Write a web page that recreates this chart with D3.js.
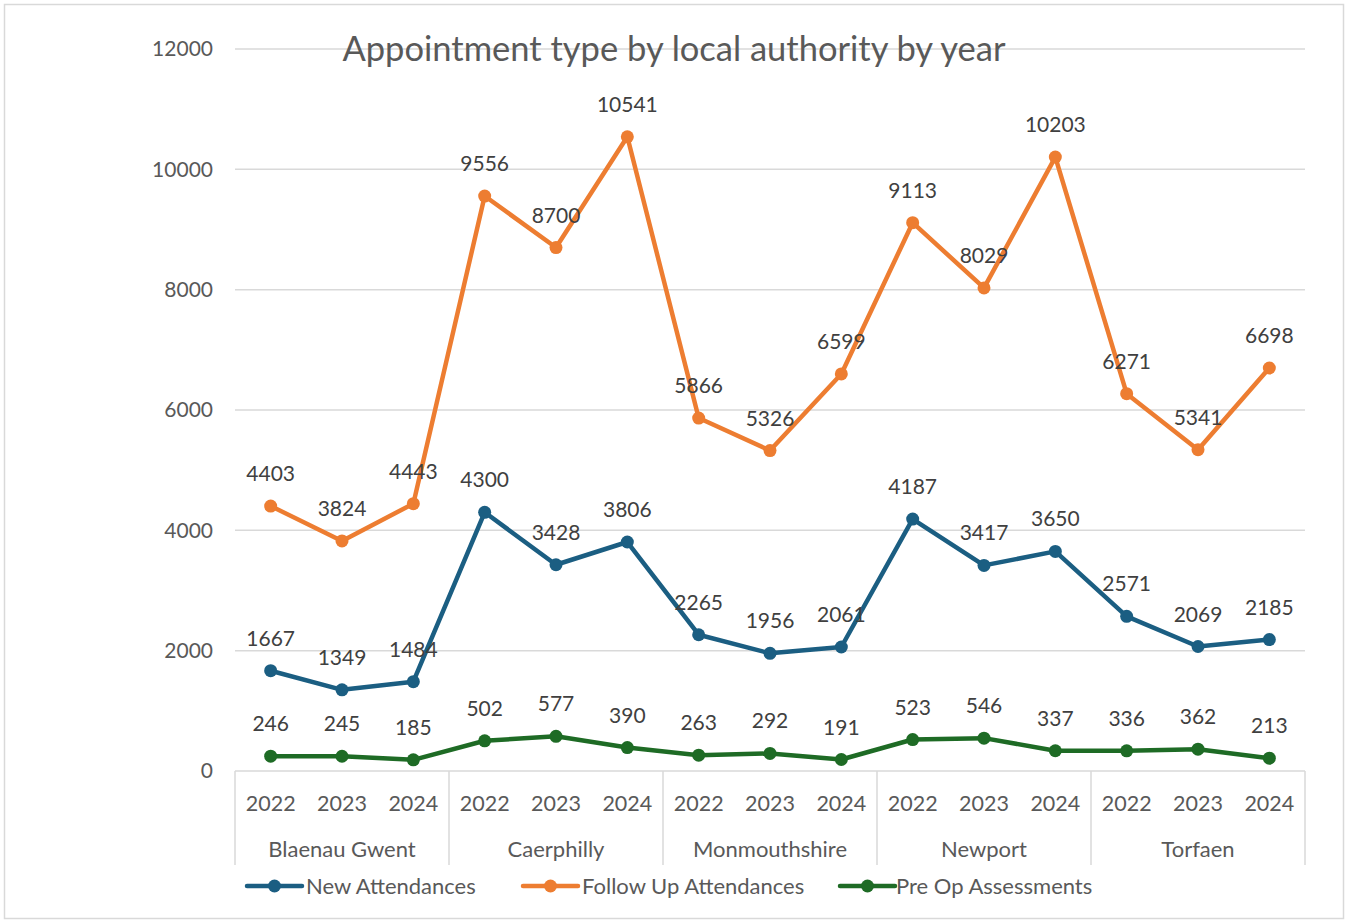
<!DOCTYPE html>
<html>
<head>
<meta charset="utf-8">
<script src="https://cdn.jsdelivr.net/npm/d3@7"></script>
<style>
  body { margin: 0; background: #ffffff; }
  svg text { font-family: Lato, "Open Sans", sans-serif; fill: #595959; }
</style>
</head>
<body>
<svg id="chart" width="1350" height="923"></svg>
<script>
// Local authorities and years along the category axis
const authorities = ["Blaenau Gwent", "Caerphilly", "Monmouthshire", "Newport", "Torfaen"];
const years = ["2022", "2023", "2024"];

// Series values, in authority/year order
const newAttendances = [1667, 1349, 1484, 4300, 3428, 3806, 2265, 1956, 2061, 4187, 3417, 3650, 2571, 2069, 2185];
const followUpAttendances = [4403, 3824, 4443, 9556, 8700, 10541, 5866, 5326, 6599, 9113, 8029, 10203, 6271, 5341, 6698];
const preOpAssessments = [246, 245, 185, 502, 577, 390, 263, 292, 191, 523, 546, 337, 336, 362, 213];

const yTicks = [0, 2000, 4000, 6000, 8000, 10000, 12000];

const seriesList = [
  { name: "New Attendances", values: newAttendances, color: "#1b5e82" },
  { name: "Follow Up Attendances", values: followUpAttendances, color: "#ed7d31" },
  { name: "Pre Op Assessments", values: preOpAssessments, color: "#1e6b25" }
];

const categories = [];
authorities.forEach(a => years.forEach(y => categories.push(a + "|" + y)));

const svg = d3.select("#chart");
const plotLeft = 235, plotRight = 1305, plotTop = 49, plotBottom = 771;

// Outer chart frame
svg.append("rect")
  .attr("x", 4.5).attr("y", 4.5).attr("width", 1339).attr("height", 914)
  .attr("fill", "#fff").attr("stroke", "#d9d9d9").attr("stroke-width", 1.5);

const x = d3.scaleBand().domain(categories).range([plotLeft, plotRight]);
const y = d3.scaleLinear().domain([0, 12000]).range([plotBottom, plotTop]);

// Horizontal gridlines
svg.append("g").selectAll("line")
  .data(yTicks.filter(t => t > 0))
  .join("line")
  .attr("x1", plotLeft).attr("x2", plotRight)
  .attr("y1", d => y(d)).attr("y2", d => y(d))
  .attr("stroke", "#d9d9d9").attr("stroke-width", 1.5);

// Value axis labels
const yAxis = d3.axisLeft(y).tickValues(yTicks).tickSize(0).tickPadding(22).tickFormat(d3.format("d"));
const yg = svg.append("g").attr("transform", `translate(${plotLeft},0)`).call(yAxis);
yg.select(".domain").remove();
yg.selectAll("text").attr("font-size", 21).style("font-family", "Lato, sans-serif").attr("fill", "#595959");

// Category axis line
svg.append("line")
  .attr("x1", plotLeft).attr("x2", plotRight).attr("y1", plotBottom).attr("y2", plotBottom)
  .attr("stroke", "#d9d9d9").attr("stroke-width", 1.5);

// Group separators
const groupBounds = authorities.map(a => x(a + "|" + years[0]));
groupBounds.push(plotRight);
svg.append("g").selectAll("line")
  .data(groupBounds)
  .join("line")
  .attr("x1", d => d).attr("x2", d => d)
  .attr("y1", plotBottom).attr("y2", 865)
  .attr("stroke", "#d9d9d9").attr("stroke-width", 1.5);

// Year labels
svg.append("g").selectAll("text")
  .data(categories)
  .join("text")
  .attr("x", d => x(d) + x.bandwidth() / 2)
  .attr("y", 811)
  .attr("text-anchor", "middle")
  .attr("font-size", 21.5)
  .text(d => d.split("|")[1]);

// Authority labels
svg.append("g").selectAll("text")
  .data(authorities)
  .join("text")
  .attr("x", a => x(a + "|" + years[1]) + x.bandwidth() / 2)
  .attr("y", 857)
  .attr("text-anchor", "middle")
  .attr("font-size", 22)
  .text(a => a);

// Title
svg.append("text")
  .attr("x", 674).attr("y", 61)
  .attr("text-anchor", "middle")
  .attr("font-size", 34.5)
  .text("Appointment type by local authority by year");

const cx = i => x(categories[i]) + x.bandwidth() / 2;
const line = d3.line().x((d, i) => cx(i)).y(d => y(d));

seriesList.forEach(s => {
  const g = svg.append("g");
  g.append("path")
    .attr("d", line(s.values))
    .attr("fill", "none")
    .attr("stroke", s.color)
    .attr("stroke-width", 4.5)
    .attr("stroke-linejoin", "round");
  g.selectAll("circle")
    .data(s.values)
    .join("circle")
    .attr("cx", (d, i) => cx(i))
    .attr("cy", d => y(d))
    .attr("r", 6.5)
    .attr("fill", s.color);
  g.selectAll("text")
    .data(s.values)
    .join("text")
    .attr("x", (d, i) => cx(i))
    .attr("y", d => y(d) - 25)
    .attr("text-anchor", "middle")
    .attr("font-size", 21)
    .style("fill", "#404040")
    .text(d => d);
});

// Legend
const legendItems = [
  { x: 247, tx: 306 },
  { x: 523, tx: 582 },
  { x: 840, tx: 896 }
];
const lg = svg.append("g");
seriesList.forEach((s, i) => {
  const it = legendItems[i];
  lg.append("line")
    .attr("x1", it.x).attr("x2", it.x + 55)
    .attr("y1", 886).attr("y2", 886)
    .attr("stroke", s.color).attr("stroke-width", 4.5).attr("stroke-linecap", "round");
  lg.append("circle")
    .attr("cx", it.x + 27.5).attr("cy", 886).attr("r", 6.5).attr("fill", s.color);
  lg.append("text")
    .attr("x", it.tx).attr("y", 894)
    .attr("font-size", 22)
    .text(s.name);
});
</script>
</body>
</html>
